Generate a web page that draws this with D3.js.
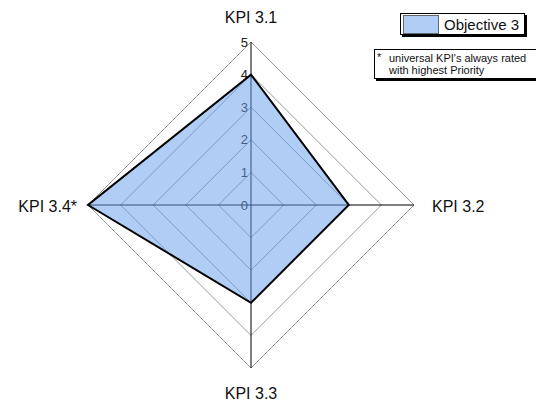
<!DOCTYPE html>
<html>
<head>
<meta charset="utf-8">
<script src="https://cdn.jsdelivr.net/npm/d3@7"></script>
<style>
  html, body { margin: 0; padding: 0; background: #fff; }
  svg { display: block; font-family: "Liberation Sans", Arial, sans-serif; }
</style>
</head>
<body>
<svg id="chart" width="536" height="405"></svg>
<script>
// KPI axes, clockwise from the top
const categories = ["KPI 3.1", "KPI 3.2", "KPI 3.3", "KPI 3.4*"];
const seriesName = "Objective 3";
const values = [4, 3, 3, 5];
const tickValues = [0, 1, 2, 3, 4, 5];
const noteLines = ["universal KPI's always rated", "with highest Priority"];

const svg = d3.select("#chart");
const cx = 251, cy = 205;
const r = d3.scaleLinear().domain([0, 5]).range([0, 163]);
const angle = d3.scaleLinear().domain([0, categories.length]).range([0, 2 * Math.PI]);

const pt = (i, v) => {
  const a = angle(i);
  return [cx + r(v) * Math.sin(a), cy - r(v) * Math.cos(a)];
};

const g = svg.append("g");

// concentric grid polygons
const ringLine = d3.line();
g.selectAll("path.ring")
  .data(tickValues.filter(t => t > 0))
  .join("path")
  .attr("class", "ring")
  .attr("d", t => ringLine(categories.map((c, i) => pt(i, t))) + "Z")
  .attr("fill", "none")
  .attr("stroke", "#999")
  .attr("stroke-width", 1);

// spokes
g.selectAll("line.spoke")
  .data(categories)
  .join("line")
  .attr("class", "spoke")
  .attr("x1", cx).attr("y1", cy)
  .attr("x2", (c, i) => pt(i, 5)[0])
  .attr("y2", (c, i) => pt(i, 5)[1])
  .attr("stroke", "#000")
  .attr("stroke-width", 1);

// value ticks along the first axis
g.selectAll("text.tick")
  .data(tickValues)
  .join("text")
  .attr("class", "tick")
  .attr("x", cx - 3)
  .attr("y", t => cy - r(t))
  .attr("dy", "0.35em")
  .attr("text-anchor", "end")
  .attr("font-size", 13)
  .attr("fill", "#222")
  .text(t => t);

// series area
g.append("path")
  .datum(values)
  .attr("d", vals => ringLine(vals.map((v, i) => pt(i, v))) + "Z")
  .attr("fill", "rgb(100,157,235)")
  .attr("fill-opacity", 0.51)
  .attr("stroke", "#000")
  .attr("stroke-width", 2)
  .attr("stroke-linejoin", "miter");

// category labels
const labelPos = [
  { x: cx, y: 23, anchor: "middle" },
  { x: 432, y: cy + 7, anchor: "start" },
  { x: cx, y: 399, anchor: "middle" },
  { x: 77, y: cy + 7, anchor: "end" }
];
svg.selectAll("text.cat")
  .data(categories)
  .join("text")
  .attr("class", "cat")
  .attr("x", (c, i) => labelPos[i].x)
  .attr("y", (c, i) => labelPos[i].y)
  .attr("text-anchor", (c, i) => labelPos[i].anchor)
  .attr("font-size", 16)
  .attr("fill", "#111")
  .text(c => c);

// legend
const leg = svg.append("g");
leg.append("rect").attr("x", 402).attr("y", 15).attr("width", 125).attr("height", 22).attr("fill", "#000");
leg.append("rect").attr("x", 400.5).attr("y", 13.5).attr("width", 124).attr("height", 21)
  .attr("fill", "#fff").attr("stroke", "#000").attr("stroke-width", 1);
leg.append("rect").attr("x", 403.5).attr("y", 15.5).attr("width", 35).attr("height", 18)
  .attr("fill", "rgb(100,157,235)").attr("fill-opacity", 0.51)
  .attr("stroke", "#666").attr("stroke-width", 1);
leg.append("text").attr("x", 444).attr("y", 30).attr("font-size", 15).attr("fill", "#111").text(seriesName);

// footnote box
const note = svg.append("g");
note.append("rect").attr("x", 376).attr("y", 51).attr("width", 170).attr("height", 30).attr("fill", "#000");
note.append("rect").attr("x", 374.5).attr("y", 49.5).attr("width", 170).attr("height", 29)
  .attr("fill", "#fff").attr("stroke", "#000").attr("stroke-width", 1);
note.append("text").attr("x", 377).attr("y", 61).attr("font-size", 11).attr("fill", "#111").text("*");
note.selectAll("text.line")
  .data(noteLines)
  .join("text")
  .attr("class", "line")
  .attr("x", 389)
  .attr("y", (d, i) => 62 + i * 12)
  .attr("font-size", 11)
  .attr("fill", "#111")
  .text(d => d);
</script>
</body>
</html>
